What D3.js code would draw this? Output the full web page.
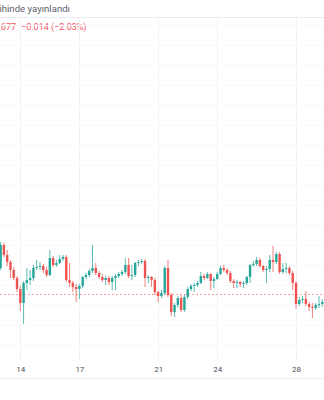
<!DOCTYPE html>
<html>
<head>
<meta charset="utf-8">
<script src="https://cdn.jsdelivr.net/npm/d3@7"></script>
<style>
  body { margin: 0; background: #fff; }
  svg { display: block; font-family: Roboto, "Noto Sans", sans-serif; }
</style>
</head>
<body>
<div id="chart"></div>
<script>
// --- DONNÉES (bougies de 4 h) ---
const startDay = 13;          // jour de la première bougie
const candlesPerDay = 6;      // 4 h par bougie
const firstOpen = 0.717;
const closes = [0.740,0.730,0.723,0.715,0.707,0.696,0.682,0.702,0.705,0.707,
  0.717,0.718,0.719,0.715,0.710,0.727,0.720,0.722,0.726,0.728,
  0.705,0.702,0.698,0.696,0.699,0.708,0.710,0.714,0.717,0.712,
  0.708,0.705,0.707,0.703,0.707,0.709,0.711,0.713,0.720,0.709,
  0.710,0.722,0.723,0.724,0.707,0.708,0.705,0.693,0.689,0.692,
  0.717,0.690,0.673,0.680,0.687,0.675,0.688,0.696,0.699,0.700,
  0.702,0.709,0.707,0.711,0.704,0.706,0.711,0.717,0.715,0.712,
  0.704,0.702,0.703,0.701,0.702,0.708,0.720,0.721,0.725,0.719,
  0.715,0.716,0.725,0.723,0.731,0.713,0.716,0.717,0.712,0.702,
  0.681,0.685,0.686,0.681,0.678,0.677,0.680,0.681,0.683];
const highs = [0.743,0.742,0.735,0.725,0.718,0.709,0.699,0.704,0.717,0.715,
  0.720,0.725,0.723,0.721,0.718,0.735,0.729,0.725,0.730,0.730,
  0.730,0.722,0.704,0.701,0.701,0.709,0.712,0.716,0.740,0.722,
  0.714,0.711,0.709,0.709,0.709,0.711,0.713,0.715,0.727,0.727,
  0.720,0.723,0.725,0.726,0.726,0.710,0.709,0.707,0.694,0.695,
  0.719,0.725,0.692,0.682,0.689,0.690,0.690,0.698,0.701,0.702,
  0.704,0.713,0.711,0.713,0.712,0.708,0.713,0.719,0.720,0.717,
  0.714,0.706,0.705,0.704,0.704,0.709,0.721,0.724,0.728,0.727,
  0.720,0.719,0.730,0.739,0.733,0.733,0.722,0.722,0.719,0.714,
  0.704,0.688,0.689,0.694,0.683,0.682,0.682,0.689,0.686];
const lows = [0.715,0.728,0.719,0.707,0.705,0.693,0.674,0.661,0.695,0.700,
  0.704,0.715,0.715,0.712,0.708,0.709,0.718,0.718,0.721,0.724,
  0.703,0.698,0.693,0.683,0.686,0.697,0.706,0.708,0.712,0.710,
  0.706,0.703,0.700,0.700,0.695,0.695,0.707,0.709,0.711,0.707,
  0.705,0.708,0.719,0.721,0.698,0.702,0.698,0.690,0.683,0.687,
  0.690,0.688,0.669,0.668,0.677,0.673,0.673,0.686,0.694,0.693,
  0.698,0.701,0.705,0.706,0.695,0.697,0.705,0.710,0.713,0.710,
  0.702,0.697,0.697,0.698,0.697,0.700,0.702,0.718,0.719,0.717,
  0.713,0.702,0.713,0.713,0.721,0.711,0.711,0.712,0.710,0.695,
  0.676,0.679,0.682,0.679,0.674,0.667,0.675,0.677,0.678];
const tickDays = [14, 17, 21, 24, 28];
const gridPrices = [0.64,0.66,0.68,0.70,0.72,0.74,0.76,0.78,0.80,0.82,0.84,0.86,0.88,0.90,0.92,0.94,0.96];
const prevClose = 0.691;
const lastPrice = "0.677";
const changeText = "\u22120.014 (\u22122.03%)";
const headerText = "TradingView'de 30 Ocak tarihinde yayınlandı";

// bougies : open = close de la bougie précédente
const candles = closes.map((c, i) => ({
  day: startDay + i / candlesPerDay,
  open: i === 0 ? firstOpen : closes[i - 1],
  high: highs[i], low: lows[i], close: c
}));

// --- CONFIGURATION ---
const largeur = 324, hauteur = 400;
const haut = 17, bas = 360;
const up = "#26a69a", down = "#ef5350";

const svg = d3.select("#chart").append("svg")
  .attr("width", largeur).attr("height", hauteur);

const x = d3.scaleLinear().domain([14, 28]).range([20.3, 296]);
const y = d3.scaleLinear().domain([0.625, 0.968]).range([bas, haut]);

// en-tête (coupé à gauche comme sur la capture)
svg.append("text").attr("x", 70).attr("y", 12)
  .attr("text-anchor", "end").attr("font-size", 9.6).attr("fill", "#5d606b")
  .text(headerText);
svg.append("line").attr("x1", 0).attr("x2", largeur).attr("y1", 17.5).attr("y2", 17.5)
  .attr("stroke", "#e9ebf0");
svg.append("text").attr("x", 16).attr("y", 30)
  .attr("text-anchor", "end").attr("font-size", 9).attr("fill", "#f0505c")
  .text(lastPrice);
svg.append("text").attr("x", 21).attr("y", 30)
  .attr("font-size", 9).attr("fill", "#f0505c")
  .text(changeText);

// grille
svg.append("g").selectAll("line").data(gridPrices).join("line")
  .attr("x1", 0).attr("x2", largeur)
  .attr("y1", d => Math.round(y(d)) + 0.5).attr("y2", d => Math.round(y(d)) + 0.5)
  .attr("stroke", "#f8f9fb");
svg.append("g").selectAll("line").data(tickDays).join("line")
  .attr("x1", d => Math.round(x(d)) + 0.5).attr("x2", d => Math.round(x(d)) + 0.5)
  .attr("y1", 18).attr("y2", bas)
  .attr("stroke", "#f0f2f6");

// ligne de clôture précédente
svg.append("line").attr("x1", 0).attr("x2", largeur)
  .attr("y1", Math.round(y(prevClose)) + 0.5).attr("y2", Math.round(y(prevClose)) + 0.5)
  .attr("stroke", "#f7a1a8").attr("stroke-dasharray", "2,2");

// bougies
const g = svg.append("g");
g.selectAll("line").data(candles).join("line")
  .attr("x1", d => x(d.day)).attr("x2", d => x(d.day))
  .attr("y1", d => y(d.high)).attr("y2", d => y(d.low))
  .attr("stroke", d => d.close >= d.open ? up : down).attr("stroke-width", 1)
  .attr("stroke-opacity", 0.75);
g.selectAll("rect").data(candles).join("rect")
  .attr("x", d => x(d.day) - 1.2).attr("width", 2.4)
  .attr("y", d => y(Math.max(d.open, d.close)))
  .attr("height", d => Math.max(1, Math.abs(y(d.open) - y(d.close))))
  .attr("fill", d => d.close >= d.open ? up : down);

// axe du temps
const axe = svg.append("g").attr("transform", `translate(0,${bas})`)
  .call(d3.axisBottom(x).tickValues(tickDays).tickSize(0).tickPadding(6));
axe.select(".domain").remove();
axe.selectAll("text").attr("font-size", 8).attr("fill", "#4c4f59")
  .attr("font-family", "Roboto, 'Noto Sans', sans-serif");
svg.append("line").attr("x1", 0).attr("x2", largeur).attr("y1", 378.5).attr("y2", 378.5)
  .attr("stroke", "#eceef2");
</script>
</body>
</html>
